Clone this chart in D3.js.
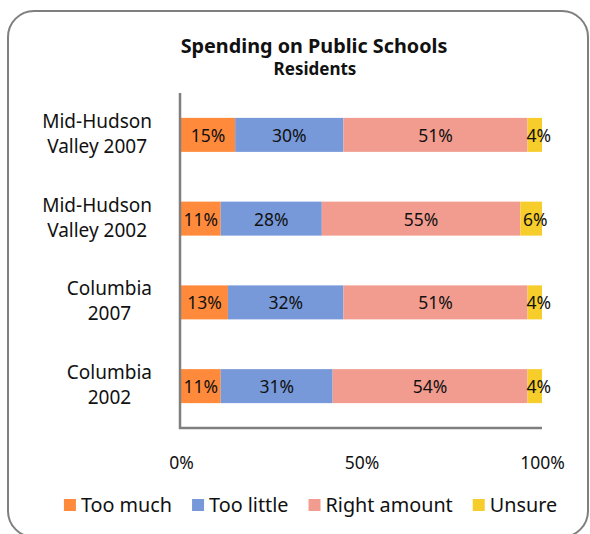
<!DOCTYPE html>
<html>
<head>
<meta charset="utf-8">
<script src="https://cdn.jsdelivr.net/npm/d3@7/dist/d3.min.js"></script>
<style>
  html, body { margin: 0; padding: 0; background: #fff; }
  svg { display: block; }
  text { font-family: "Noto Sans", sans-serif; fill: #111; }
</style>
</head>
<body>
<svg id="chart" width="590" height="534"></svg>
<script>
// ---- data ----
const categories = [
  ["Mid-Hudson", "Valley 2007"],
  ["Mid-Hudson", "Valley 2002"],
  ["Columbia", "2007"],
  ["Columbia", "2002"]
];
const seriesNames = ["Too much", "Too little", "Right amount", "Unsure"];
const tooMuch     = [15, 11, 13, 11];
const tooLittle   = [30, 28, 32, 31];
const rightAmount = [51, 55, 51, 54];
const unsure      = [4, 6, 4, 4];
const tickValues  = [0, 50, 100];
const titleText = "Spending on Public Schools";
const subtitleText = "Residents";

const colors = ["#FF8A3C", "#7799D9", "#F29C8F", "#F7CD2C"];

// ---- build table ----
const seriesValues = [tooMuch, tooLittle, rightAmount, unsure];
const keys = categories.map(c => c.join(" "));
const rows = keys.map((k, i) => {
  const r = { key: k };
  seriesNames.forEach((s, j) => r[s] = seriesValues[j][i]);
  return r;
});
const stacked = d3.stack().keys(seriesNames)(rows);

const svg = d3.select("#chart");

// frame
svg.append("rect")
  .attr("x", 8).attr("y", 11)
  .attr("width", 580).attr("height", 526)
  .attr("rx", 26).attr("ry", 26)
  .attr("fill", "#fff")
  .attr("stroke", "#7f7f7f").attr("stroke-width", 2);

// titles
svg.append("text").attr("x", 314).attr("y", 53)
  .attr("text-anchor", "middle")
  .style("font-size", "19.8px").style("font-weight", "bold")
  .text(titleText);
svg.append("text").attr("x", 315).attr("y", 75)
  .attr("text-anchor", "middle")
  .style("font-size", "17px").style("font-weight", "bold")
  .text(subtitleText);

// scales
const x = d3.scaleLinear().domain([0, 100]).range([181, 542]);
const y = d3.scaleBand().domain(keys).range([93, 428])
  .paddingInner(0.594).paddingOuter(0.297);

// bars
const g = svg.append("g");
stacked.forEach((layer, j) => {
  g.selectAll(null).data(layer).enter().append("rect")
    .attr("x", d => x(d[0]))
    .attr("y", d => y(d.data.key))
    .attr("width", d => x(d[1]) - x(d[0]))
    .attr("height", y.bandwidth())
    .attr("fill", colors[j]);
});
// bar labels
stacked.forEach((layer, j) => {
  g.selectAll(null).data(layer).enter().append("text")
    .attr("x", d => (x(d[0]) + x(d[1])) / 2 + (j === 3 ? 4 : 0))
    .attr("y", d => y(d.data.key) + y.bandwidth() / 2 + 7)
    .attr("text-anchor", "middle")
    .style("font-size", "17.5px")
    .text(d => (d[1] - d[0]) + "%");
});

// y axis line
const yAxis = d3.axisLeft(y).tickSize(0).tickFormat("");
svg.append("g").attr("transform", "translate(180,0)").call(yAxis)
  .call(a => a.select(".domain").attr("stroke", "#7f7f7f").attr("stroke-width", 2.5)
        .attr("d", "M0,93V429"));

// x axis
const xAxis = d3.axisBottom(x).tickValues(tickValues).tickSize(0)
  .tickFormat(d => d + "%");
svg.append("g").attr("transform", "translate(0,428)").call(xAxis)
  .call(a => a.select(".domain").attr("stroke", "#7f7f7f").attr("stroke-width", 2.5)
        .attr("d", "M179,0H542"))
  .call(a => a.selectAll("text").attr("dy", null).attr("y", 41)
        .style("font-size", "17.5px").style("font-family", "'Noto Sans', sans-serif").attr("fill", "#111"));

// category labels
const catG = svg.append("g");
categories.forEach((lines, i) => {
  const cy = y(keys[i]) + y.bandwidth() / 2;
  const t = catG.append("text").attr("text-anchor", "middle").style("font-size", "19px");
  lines.forEach((ln, k) => {
    t.append("tspan").attr("x", 0).attr("y", cy - 7 + k * 25).text(ln);
  });
  const w = t.node().getBBox().width;
  t.selectAll("tspan").attr("x", 152 - w / 2);
});

// legend
const leg = svg.append("g");
let lx = 0;
const items = [];
seriesNames.forEach((s, j) => {
  const it = leg.append("g");
  it.append("rect").attr("x", 0).attr("y", 499).attr("width", 12).attr("height", 12).attr("fill", colors[j]);
  const t = it.append("text").attr("x", 17).attr("y", 512).style("font-size", "19.8px").text(s);
  const w = 17 + t.node().getComputedTextLength();
  items.push({ it, w });
});
const gap = 20;
const total = d3.sum(items, d => d.w) + gap * (items.length - 1);
lx = 310.5 - total / 2;
items.forEach(d => { d.it.attr("transform", `translate(${lx},0)`); lx += d.w + gap; });
</script>
</body>
</html>
